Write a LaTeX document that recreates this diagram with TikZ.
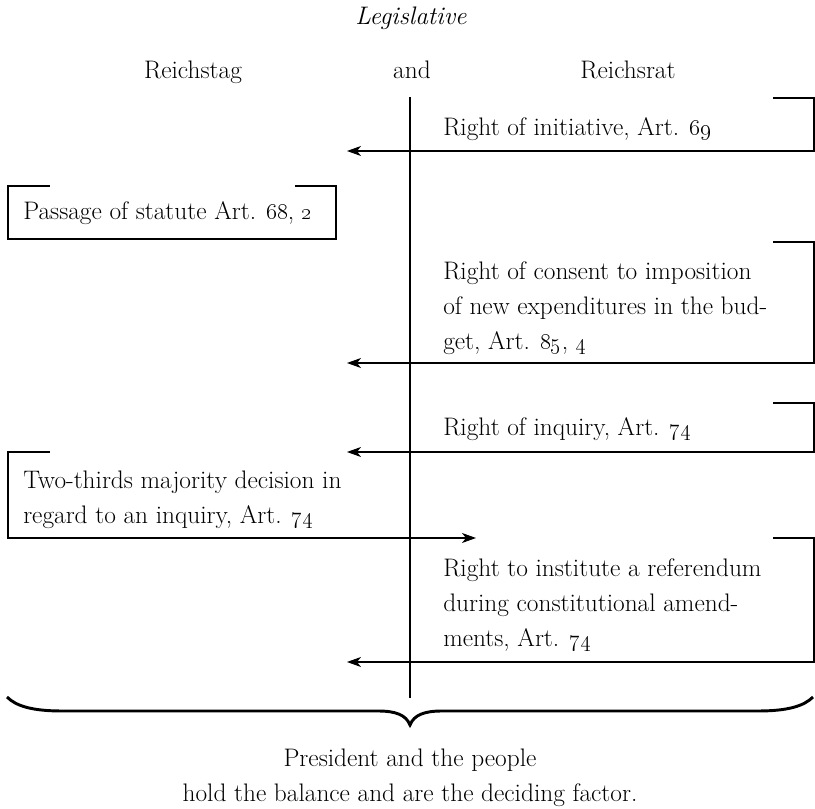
\documentclass[tikz,border=0pt]{standalone}
\usetikzlibrary{arrows.meta}
\newcommand{\osn}[1]{\oldstylenums{#1}}
\begin{document}
\begin{tikzpicture}[x=0.75pt,y=-0.75pt,
  lbl/.style={font=\fontsize{19}{26.25}\selectfont, inner sep=0pt, align=left, anchor=west},
  head/.style={font=\fontsize{19}{26.25}\selectfont, inner sep=0pt},
  frameline/.style={line width=0.8pt},
  arr/.style={line width=0.8pt,-{Stealth[length=10.5pt,width=7.5pt,inset=3pt]}},
  bracestyle/.style={line width=2.2pt},
]
\useasboundingbox (0,0) rectangle (815,809);
% headings
\node[head,anchor=base,font=\fontsize{19}{26.25}\selectfont\itshape] (leg) at (411,25) {Legislative};
\node[head,anchor=base] (rtag) at (193,79) {Reichstag};
\node[head,anchor=base] (and) at (412,79) {and};
\node[head,anchor=base] (rrat) at (628,79) {Reichsrat};
% central axis
\coordinate (axtop) at (410,97);
\coordinate (axbot) at (410,698);
\draw[frameline] (axtop) -- (axbot);
% text nodes
\node[lbl] (r1) at (443,129) {Right of initiative, Art. \osn{69}};
\node[lbl] (l1) at (23,213) {Passage of statute Art. \osn{68}, \osn{2}};
\node[lbl] (r2) at (443,308) {Right of consent to imposition\\of new expenditures in the bud-\\get, Art. \osn{85}, \osn{4}};
\node[lbl] (r3) at (443,429) {Right of inquiry, Art. \osn{74}};
\node[lbl] (l2) at (23,500) {Two-thirds majority decision in\\regard to an inquiry, Art. \osn{74}};
\node[lbl] (r4) at (443,605) {Right to institute a referendum\\during constitutional amend-\\ments, Art. \osn{74}};
% frame coordinates
\coordinate (r1a) at (773,98);  \coordinate (r1b) at (814,98);  \coordinate (r1c) at (814,151); \coordinate (r1d) at (347,151);
\coordinate (r2a) at (773,242); \coordinate (r2b) at (814,242); \coordinate (r2c) at (814,363); \coordinate (r2d) at (347,363);
\coordinate (r3a) at (773,403); \coordinate (r3b) at (814,403); \coordinate (r3c) at (814,452); \coordinate (r3d) at (347,452);
\coordinate (r4a) at (773,538); \coordinate (r4b) at (814,538); \coordinate (r4c) at (814,662); \coordinate (r4d) at (347,662);
\draw[arr] (r1a) -- (r1b) -- (r1c) -- (r1d);
\draw[arr] (r2a) -- (r2b) -- (r2c) -- (r2d);
\draw[arr] (r3a) -- (r3b) -- (r3c) -- (r3d);
\draw[arr] (r4a) -- (r4b) -- (r4c) -- (r4d);
% left boxes
\coordinate (l1a) at (50,186); \coordinate (l1b) at (8,186); \coordinate (l1c) at (8,239); \coordinate (l1d) at (336,239); \coordinate (l1e) at (336,186); \coordinate (l1f) at (295,186);
\draw[frameline] (l1a) -- (l1b) -- (l1c) -- (l1d) -- (l1e) -- (l1f);
\coordinate (l2a) at (50,452); \coordinate (l2b) at (8,452); \coordinate (l2c) at (8,538); \coordinate (l2d) at (476,538);
\draw[arr] (l2a) -- (l2b) -- (l2c) -- (l2d);
% brace
\draw[bracestyle] (7,697) .. controls (16,706) and (32,711) .. (62,711) -- (378,711)
  .. controls (396,711) and (406,715) .. (410,725)
  .. controls (414,715) and (424,711) .. (442,711) -- (758,711)
  .. controls (788,711) and (804,706) .. (813,697);
\node[head,align=center] (pres) at (410,778) {President and the people\\hold the balance and are the deciding factor.};
\end{tikzpicture}
\end{document}
